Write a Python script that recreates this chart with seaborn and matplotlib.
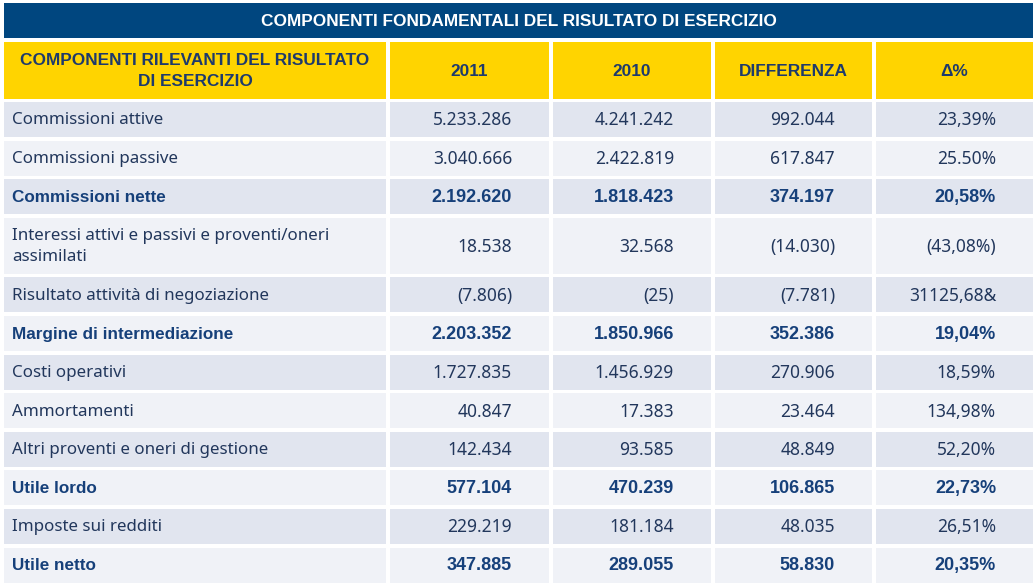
import pandas as pd
import matplotlib.pyplot as plt
import seaborn as sns
from matplotlib.patches import Rectangle

sns.set_theme(style="white")
plt.rcParams['font.family'] = ['Noto Sans', 'DejaVu Sans']

# dati della tabella
title = "COMPONENTI FONDAMENTALI DEL RISULTATO DI ESERCIZIO"
headers = ["COMPONENTI RILEVANTI DEL RISULTATO\nDI ESERCIZIO", "2011", "2010", "DIFFERENZA", "Δ%"]
voci = ["Commissioni attive", "Commissioni passive", "Commissioni nette",
        "Interessi attivi e passivi e proventi/oneri\nassimilati",
        "Risultato attività di negoziazione", "Margine di intermediazione",
        "Costi operativi", "Ammortamenti", "Altri proventi e oneri di gestione",
        "Utile lordo", "Imposte sui redditi", "Utile netto"]
val_2011 = ["5.233.286", "3.040.666", "2.192.620", "18.538", "(7.806)", "2.203.352",
            "1.727.835", "40.847", "142.434", "577.104", "229.219", "347.885"]
val_2010 = ["4.241.242", "2.422.819", "1.818.423", "32.568", "(25)", "1.850.966",
            "1.456.929", "17.383", "93.585", "470.239", "181.184", "289.055"]
differenza = ["992.044", "617.847", "374.197", "(14.030)", "(7.781)", "352.386",
              "270.906", "23.464", "48.849", "106.865", "48.035", "58.830"]
delta_pct = ["23,39%", "25.50%", "20,58%", "(43,08%)", "31125,68&", "19,04%",
             "18,59%", "134,98%", "52,20%", "22,73%", "26,51%", "20,35%"]
grassetto = [False, False, True, False, False, True, False, False, False, True, False, True]

df = pd.DataFrame({"voce": voci, "2011": val_2011, "2010": val_2010,
                   "diff": differenza, "pct": delta_pct, "bold": grassetto})

BLU = "#00467F"
GIALLO = "#FFD400"
RIGA_SCURA = "#E1E5EF"
RIGA_CHIARA = "#F0F2F7"
TESTO = "#22375C"
TESTO_BOLD = "#16407A"
HEAD_FONT = ["Liberation Sans", "DejaVu Sans"]

fig = plt.figure(figsize=(10.36, 5.88), dpi=100)
ax = fig.add_axes([0, 0, 1, 1])
ax.set_xlim(0, 1036)
ax.set_ylim(588, 0)
ax.axis("off")

cols = [(4, 386), (390, 549), (553, 711), (715, 872), (876, 1033)]

# titolo
ax.add_patch(Rectangle((4, 3), 1029, 35, color=BLU, lw=0))
ax.text(518.5, 21, title, color="white", ha="center", va="center",
        fontsize=12.4, fontweight="bold", family=HEAD_FONT)

# intestazioni
for (x0, x1), h in zip(cols, headers):
    ax.add_patch(Rectangle((x0, 42), x1 - x0, 57, color=GIALLO, lw=0))
    ax.text((x0 + x1) / 2, 71, h, color="#1E3A6C", ha="center", va="center",
            fontsize=12.4, fontweight="bold", linespacing=1.45, family=HEAD_FONT)

# righe
y = 102
for i, row in df.iterrows():
    h = 56 if "\n" in row["voce"] else 35
    fc = RIGA_SCURA if i % 2 == 0 else RIGA_CHIARA
    for x0, x1 in cols:
        ax.add_patch(Rectangle((x0, y), x1 - x0, h, color=fc, lw=0))
    yc = y + h / 2 + 0.8
    if row["bold"]:
        kw = dict(color=TESTO_BOLD, fontweight="bold", fontsize=12.3, family=HEAD_FONT)
        kn = dict(color=TESTO_BOLD, fontweight="bold", fontsize=13, family=HEAD_FONT)
    else:
        kw = dict(color=TESTO, fontsize=12.2)
        kn = dict(color=TESTO, fontsize=12.5)
    ax.text(12, yc, row["voce"], ha="left", va="center", linespacing=1.35, **kw)
    for (x0, x1), k in zip(cols[1:], ["2011", "2010", "diff", "pct"]):
        ax.text(x1 - 37, yc, row[k], ha="right", va="center", **kn)
    y += h + 3.6

fig.savefig("out.png", dpi=100, facecolor="white")
